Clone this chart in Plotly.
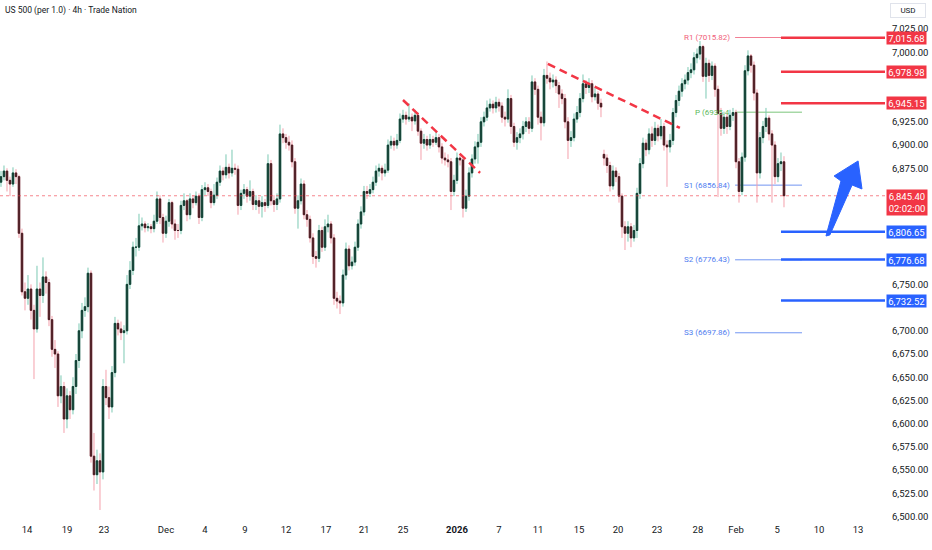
import plotly.graph_objects as go

FONT = "Roboto, 'Liberation Sans', sans-serif"
TXT = "#131722"

# US 500, 4h bars from mid-November 2025 to 5 February 2026
opens = [
    6860, 6866, 6872, 6862, 6858, 6870, 6866, 6805, 6742, 6735,
    6745, 6722, 6702, 6745, 6738, 6758, 6752, 6712, 6680, 6675,
    6630, 6640, 6605, 6630, 6615, 6640, 6668, 6700, 6722, 6726,
    6762, 6565, 6545, 6560, 6548, 6640, 6628, 6618, 6655, 6708,
    6702, 6698, 6700, 6750, 6765, 6790, 6790, 6813, 6815, 6811,
    6812, 6810, 6818, 6842, 6822, 6805, 6818, 6838, 6815, 6808,
    6808, 6835, 6840, 6825, 6842, 6838, 6845, 6822, 6852, 6854,
    6850, 6838, 6846, 6860, 6872, 6868, 6876, 6870, 6875, 6874,
    6835, 6848, 6852, 6845, 6850, 6836, 6840, 6834, 6838, 6835,
    6880, 6840, 6836, 6842, 6912, 6908, 6903, 6900, 6882, 6832,
    6840, 6858, 6825, 6820, 6800, 6780, 6778, 6808, 6790, 6812,
    6815, 6800, 6735, 6732, 6730, 6760, 6788, 6770, 6774, 6790,
    6815, 6828, 6850, 6848, 6852, 6860, 6872, 6875, 6870, 6873,
    6900, 6904, 6900, 6905, 6928, 6932, 6928, 6930, 6926, 6932,
    6915, 6902, 6906, 6900, 6906, 6903, 6908, 6898, 6886, 6884,
    6882, 6850, 6862, 6886, 6884, 6832, 6845, 6870, 6885, 6898,
    6903, 6925, 6930, 6940, 6944, 6940, 6946, 6942, 6930, 6928,
    6950, 6920, 6903, 6908, 6912, 6920, 6925, 6918, 6968, 6960,
    6930, 6924, 6975, 6972, 6968, 6970, 6964, 6955, 6950, 6925,
    6905, 6908, 6928, 6935, 6950, 6966, 6962, 6966, 6952, 6955,
    6945, 6890, 6886, 6878, 6856, 6872, 6866, 6845, 6812, 6805,
    6812, 6800, 6808, 6848, 6880, 6902, 6895, 6912, 6905, 6918,
    6910, 6920, 6900, 6898, 6905, 6935, 6948, 6958, 6966, 6970,
    6978, 6981, 6994, 6998, 7006, 6974, 6988, 6975, 6985, 6960,
    6934, 6918, 6930, 6920, 6932, 6935, 6882, 6850, 6887, 6980,
    6996, 6986, 6956, 6870, 6908, 6920, 6929, 6912, 6900, 6866,
    6880, 6882,
]
highs = [
    6872, 6878, 6875, 6866, 6876, 6874, 6868, 6810, 6752, 6760,
    6750, 6728, 6770, 6752, 6779, 6764, 6756, 6716, 6690, 6678,
    6652, 6645, 6638, 6635, 6650, 6675, 6708, 6730, 6736, 6768,
    6765, 6590, 6572, 6568, 6648, 6658, 6640, 6662, 6715, 6712,
    6710, 6706, 6760, 6775, 6796, 6800, 6826, 6822, 6818, 6816,
    6815, 6825, 6850, 6846, 6826, 6824, 6842, 6840, 6820, 6815,
    6840, 6848, 6842, 6848, 6846, 6850, 6848, 6857, 6860, 6858,
    6853, 6858, 6865, 6878, 6876, 6890, 6880, 6895, 6880, 6878,
    6852, 6858, 6855, 6862, 6853, 6846, 6844, 6845, 6842, 6890,
    6884, 6846, 6848, 6922, 6918, 6912, 6910, 6905, 6886, 6846,
    6864, 6862, 6830, 6824, 6805, 6786, 6814, 6812, 6820, 6825,
    6818, 6804, 6742, 6738, 6766, 6795, 6792, 6780, 6796, 6820,
    6834, 6856, 6856, 6858, 6866, 6878, 6880, 6878, 6880, 6906,
    6910, 6908, 6912, 6934, 6938, 6936, 6945, 6934, 6938, 6935,
    6918, 6912, 6910, 6912, 6910, 6914, 6912, 6902, 6892, 6890,
    6886, 6868, 6892, 6890, 6888, 6852, 6876, 6890, 6904, 6912,
    6930, 6936, 6948, 6950, 6948, 6952, 6950, 6946, 6936, 6960,
    6954, 6924, 6914, 6918, 6926, 6930, 6930, 6975, 6972, 6964,
    6936, 6982, 6990, 6978, 6976, 6974, 6968, 6960, 6955, 6930,
    6915, 6934, 6942, 6956, 6976, 6970, 6972, 6970, 6962, 6958,
    6950, 6895, 6890, 6882, 6878, 6876, 6870, 6848, 6818, 6818,
    6816, 6814, 6854, 6886, 6908, 6906, 6918, 6920, 6925, 6922,
    6928, 6924, 6905, 6912, 6940, 6954, 6964, 6972, 6976, 6984,
    6988, 7000, 7004, 7012, 7008, 6994, 6992, 6990, 6988, 6964,
    6940, 6936, 6934, 6938, 6940, 6938, 6886, 6892, 6986, 7002,
    6998, 6990, 6960, 6914, 6926, 6940, 6932, 6916, 6904, 6886,
    6892, 6888,
]
lows = [
    6855, 6862, 6850, 6845, 6855, 6858, 6800, 6738, 6722, 6728,
    6712, 6648, 6698, 6715, 6730, 6740, 6705, 6672, 6660, 6618,
    6622, 6590, 6595, 6605, 6610, 6632, 6660, 6692, 6715, 6720,
    6558, 6528, 6535, 6507, 6540, 6620, 6605, 6612, 6650, 6695,
    6690, 6665, 6696, 6745, 6760, 6780, 6786, 6808, 6806, 6807,
    6805, 6806, 6815, 6815, 6795, 6800, 6812, 6810, 6798, 6800,
    6804, 6830, 6818, 6820, 6832, 6835, 6815, 6818, 6846, 6845,
    6832, 6835, 6842, 6856, 6862, 6864, 6864, 6866, 6868, 6825,
    6830, 6842, 6838, 6840, 6830, 6830, 6826, 6822, 6828, 6832,
    6835, 6828, 6830, 6838, 6902, 6896, 6894, 6876, 6826, 6810,
    6836, 6820, 6812, 6795, 6772, 6768, 6774, 6785, 6786, 6806,
    6794, 6728, 6724, 6718, 6726, 6755, 6765, 6766, 6770, 6786,
    6810, 6824, 6842, 6844, 6848, 6856, 6866, 6862, 6866, 6870,
    6896, 6894, 6896, 6902, 6924, 6922, 6925, 6915, 6922, 6910,
    6884, 6896, 6894, 6896, 6898, 6900, 6892, 6880, 6878, 6876,
    6830, 6845, 6858, 6878, 6822, 6828, 6840, 6865, 6880, 6880,
    6898, 6920, 6926, 6936, 6934, 6935, 6936, 6924, 6920, 6924,
    6912, 6898, 6895, 6902, 6906, 6914, 6912, 6914, 6954, 6922,
    6905, 6920, 6966, 6960, 6962, 6956, 6940, 6944, 6918, 6885,
    6898, 6904, 6924, 6930, 6946, 6955, 6956, 6946, 6948, 6938,
    6930, 6878, 6870, 6850, 6852, 6860, 6838, 6800, 6787, 6796,
    6790, 6796, 6800, 6842, 6875, 6888, 6890, 6898, 6900, 6904,
    6906, 6894, 6855, 6892, 6900, 6930, 6942, 6952, 6960, 6965,
    6972, 6976, 6988, 6992, 6968, 6950, 6968, 6970, 6952, 6844,
    6910, 6912, 6912, 6916, 6926, 6875, 6838, 6846, 6882, 6975,
    6978, 6948, 6838, 6864, 6902, 6914, 6905, 6838, 6858, 6860,
    6872, 6833,
]
closes = [
    6866, 6872, 6862, 6858, 6870, 6866, 6805, 6742, 6735, 6745,
    6722, 6702, 6745, 6738, 6758, 6752, 6712, 6680, 6675, 6630,
    6640, 6605, 6630, 6615, 6640, 6668, 6700, 6722, 6726, 6762,
    6565, 6545, 6560, 6548, 6640, 6628, 6618, 6655, 6708, 6702,
    6698, 6700, 6750, 6765, 6790, 6790, 6813, 6815, 6811, 6812,
    6810, 6818, 6842, 6822, 6805, 6818, 6838, 6815, 6808, 6808,
    6835, 6840, 6825, 6842, 6838, 6845, 6822, 6852, 6854, 6850,
    6838, 6846, 6860, 6872, 6868, 6876, 6870, 6875, 6874, 6835,
    6848, 6852, 6845, 6850, 6836, 6840, 6834, 6838, 6835, 6880,
    6840, 6836, 6842, 6912, 6908, 6903, 6900, 6882, 6832, 6840,
    6858, 6825, 6820, 6800, 6780, 6778, 6808, 6790, 6812, 6815,
    6800, 6735, 6732, 6730, 6760, 6788, 6770, 6774, 6790, 6815,
    6828, 6850, 6848, 6852, 6860, 6872, 6875, 6870, 6873, 6900,
    6904, 6900, 6905, 6928, 6932, 6928, 6930, 6926, 6932, 6915,
    6902, 6906, 6900, 6906, 6903, 6908, 6898, 6886, 6884, 6882,
    6850, 6862, 6886, 6884, 6832, 6845, 6870, 6885, 6898, 6903,
    6925, 6930, 6940, 6944, 6940, 6946, 6942, 6930, 6928, 6950,
    6920, 6903, 6908, 6912, 6920, 6925, 6918, 6968, 6960, 6930,
    6924, 6975, 6972, 6968, 6970, 6964, 6955, 6950, 6925, 6905,
    6908, 6928, 6935, 6950, 6966, 6962, 6966, 6952, 6955, 6945,
    6941, 6886, 6878, 6856, 6872, 6866, 6845, 6812, 6805, 6812,
    6800, 6808, 6848, 6880, 6902, 6895, 6912, 6905, 6918, 6910,
    6920, 6900, 6898, 6905, 6935, 6948, 6958, 6966, 6970, 6978,
    6981, 6994, 6998, 7006, 6974, 6988, 6975, 6985, 6960, 6934,
    6918, 6930, 6920, 6932, 6935, 6882, 6850, 6887, 6980, 6996,
    6986, 6956, 6870, 6908, 6920, 6929, 6912, 6900, 6866, 6880,
    6882, 6845.40,
]

# bar index where each date label sits on the time axis
tick_pos = [8.7, 22, 34.3, 55, 68, 81.3, 95, 108.3, 121, 134, 152,
            166, 179, 192.7, 205.7, 218.7, 232.3, 245, 258.7, 272.7, 285.7]
tick_text = ["14", "19", "23", "Dec", "4", "9", "12", "17", "21", "25", "<b>2026</b>",
             "7", "11", "15", "20", "23", "28", "Feb", "5", "10", "13"]

# price scale labels left visible (the others sit under the price tags)
price_ticks = [6500, 6525, 6550, 6575, 6600, 6625, 6650, 6675, 6700, 6750,
               6875, 6900, 6925, 7000, 7025]

pivot_values = [7015.82, 6935.4, 6856.84, 6776.43, 6697.86]
pivot_labels = ["R1 (7015.82)", "P (6935.4", "S1 (6856.84)", "S2 (6776.43)", "S3 (6697.86)"]
pivot_colors = ["#f0607a", "#5cb85c", "#4f7cf0", "#4f7cf0", "#4f7cf0"]

resistance = [7015.68, 6978.98, 6945.15]
support = [6806.65, 6776.68, 6732.52]
last_price = 6845.40
countdown = "02:02:00"

# hand-drawn trend lines (bar index, price)
trend_lines = [
    ([134.0, 159.7], [6948.5, 6870.0]),
    ([182.3, 226.3], [6987.3, 6918.4]),
]
# hand-drawn bullish arrow outline (bar index, price)
arrow_x = [275.0, 280.0, 277.7, 285.7, 287.0, 283.7, 276.3]
arrow_y = [6802.1, 6861.3, 6866.7, 6882.9, 6852.7, 6857.0, 6803.2]

X_RANGE = [-0.33, 294.67]
Y_RANGE = [6494.1, 7056.2]
pivot_start, pivot_end = 244.7, 267.0

n = len(closes)
idx = list(range(n))
highs = [max(h, o, c) for h, o, c in zip(highs, opens, closes)]
lows = [min(l, o, c) for l, o, c in zip(lows, opens, closes)]
body_hi = [max(o, c) for o, c in zip(opens, closes)]
body_lo = [min(o, c) for o, c in zip(opens, closes)]

fig = go.Figure()

# wicks (light colours)
fig.add_trace(go.Candlestick(
    x=idx, open=opens, high=highs, low=lows, close=closes,
    increasing=dict(line=dict(color="#7cc9b4", width=1), fillcolor="#7cc9b4"),
    decreasing=dict(line=dict(color="#f4a0ab", width=1), fillcolor="#f4a0ab"),
    whiskerwidth=0, hoverinfo="skip", showlegend=False,
))
# bodies (dark colours)
fig.add_trace(go.Candlestick(
    x=idx, open=opens, high=body_hi, low=body_lo, close=closes,
    increasing=dict(line=dict(color="#123f33", width=1), fillcolor="#123f33"),
    decreasing=dict(line=dict(color="#4a1c22", width=1), fillcolor="#4a1c22"),
    whiskerwidth=0, hoverinfo="skip", showlegend=False,
))

for tx, ty in trend_lines:
    fig.add_trace(go.Scatter(
        x=tx, y=ty, mode="lines", hoverinfo="skip", showlegend=False,
        line=dict(color="#f23645", width=2.5, dash="8px,5px"),
    ))

# current price dotted line
fig.add_shape(type="line", xref="paper", x0=0, x1=1, y0=last_price, y1=last_price,
              line=dict(color="#f23645", width=1, dash="dot"), opacity=0.6)

# pivot lines + labels
for val, lab, col in zip(pivot_values, pivot_labels, pivot_colors):
    fig.add_shape(type="line", x0=pivot_start, x1=pivot_end, y0=val, y1=val,
                  line=dict(color=col, width=1), opacity=0.8, layer="below")
    fig.add_annotation(x=pivot_start, y=val, text=lab, showarrow=False,
                       xanchor="right", xshift=-3, font=dict(size=8, color=col, family=FONT))

# key levels
for lvls, col in [(resistance, "#f23645"), (support, "#2962ff")]:
    for v in lvls:
        fig.add_shape(type="line", x0=n - 2, x1=X_RANGE[1], y0=v, y1=v,
                      line=dict(color=col, width=2.5))
        fig.add_annotation(xref="paper", x=1, y=v, text=f"{v:,.2f}", showarrow=False,
                           xanchor="left", xshift=1, bgcolor=col, width=38, borderpad=0.5,
                           font=dict(size=9.5, color="white", family=FONT))

fig.add_annotation(xref="paper", x=1, y=last_price, yanchor="top", yshift=7,
                   text=f"{last_price:,.2f}<br>{countdown}", showarrow=False,
                   xanchor="left", xshift=1, bgcolor="#f23645", width=38, borderpad=1,
                   font=dict(size=9.5, color="white", family=FONT))

# bullish arrow
path = "M " + " L ".join(f"{x},{y}" for x, y in zip(arrow_x, arrow_y)) + " Z"
fig.add_shape(type="path", path=path, fillcolor="#2962ff",
              line=dict(color="#2962ff", width=1))

fig.add_annotation(xref="paper", yref="paper", x=0, y=1, xanchor="left", yanchor="top",
                   xshift=3, yshift=-3, text="US 500 (per 1.0) · 4h · Trade Nation",
                   showarrow=False, font=dict(size=8.5, color=TXT, family=FONT))
fig.add_annotation(xref="paper", yref="paper", x=1, y=1, xanchor="left", yanchor="top",
                   xshift=5, yshift=-3, text="USD", showarrow=False, bgcolor="white",
                   bordercolor="#e0e3eb", borderwidth=1, borderpad=2, width=30,
                   font=dict(size=8, color=TXT, family=FONT))

fig.update_layout(
    width=932, height=550, autosize=False,
    margin=dict(l=0, r=47, t=0, b=28),
    paper_bgcolor="white", plot_bgcolor="white",
    showlegend=False, hovermode=False,
    font=dict(family=FONT, color=TXT, size=9.5),
    xaxis=dict(range=X_RANGE, tickvals=tick_pos, ticktext=tick_text,
               showgrid=False, zeroline=False, ticks="", rangeslider=dict(visible=False),
               tickfont=dict(size=9.5, color=TXT)),
    yaxis=dict(range=Y_RANGE, side="right", tickvals=price_ticks, tickformat=",.2f",
               showgrid=False, zeroline=False, ticks="", ticklabelstandoff=6,
               tickfont=dict(size=9.5, color=TXT)),
)

fig.write_html("out.html", config={"displayModeBar": False},
               post_script="document.body.style.margin='0';")
